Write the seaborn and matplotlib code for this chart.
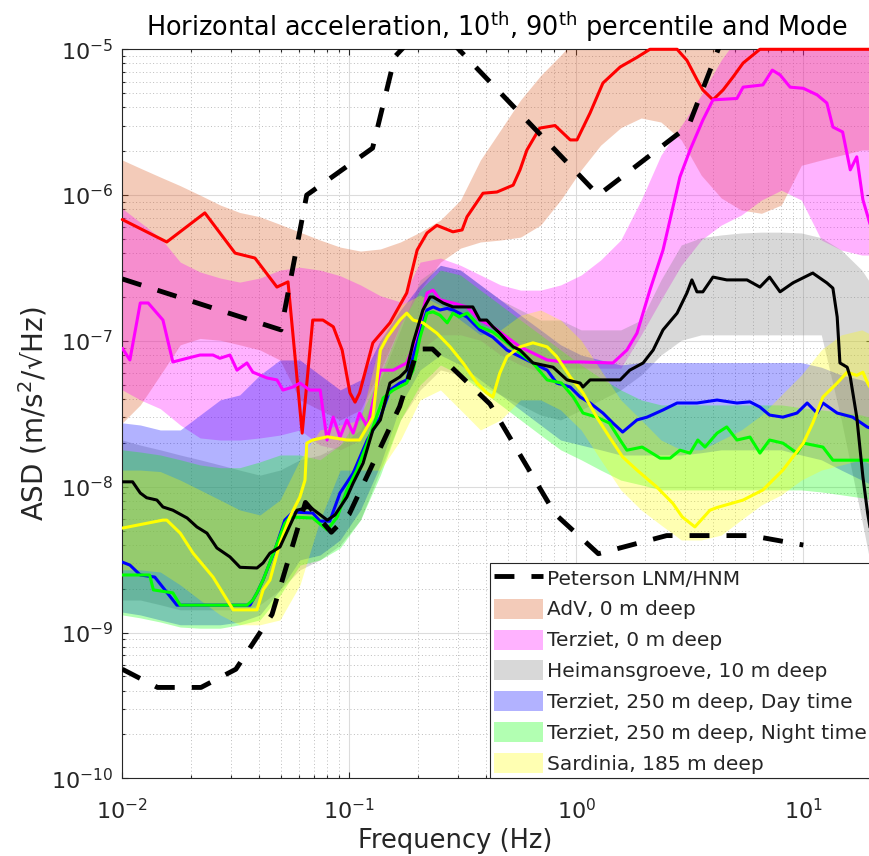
import matplotlib
matplotlib.use("Agg")
import matplotlib.pyplot as plt
from matplotlib.lines import Line2D
from matplotlib.patches import Patch
from matplotlib.ticker import NullFormatter, FixedLocator
import seaborn as sns

sns.set_theme(style="white")
plt.rcParams["font.family"] = ["DejaVu Sans"]
plt.rcParams["mathtext.fontset"] = "dejavusans"

# ---------------- Peterson new low / high noise models (breakpoints) ----------------
nlnm_freq = [0.01, 0.01429, 0.02222, 0.03165, 0.04566, 0.0641, 0.08333, 0.1, 0.1667,
             0.2, 0.2326, 0.4167, 0.8065, 1.25, 2.5, 5.882, 10.0]
nlnm_asd = [5.6e-10, 4.2e-10, 4.2e-10, 5.6e-10, 1.33e-9, 7.8e-9, 4.87e-9, 6.5e-9, 3.55e-8,
            8.8e-8, 8.8e-8, 3.69e-8, 6.5e-9, 3.47e-9, 4.62e-9, 4.62e-9, 3.98e-9]
nhnm_freq = [0.01, 0.05, 0.0649, 0.1266, 0.1587, 0.2174, 0.2632, 1.25, 3.125, 4.545, 10.0]
nhnm_asd = [2.66e-7, 1.19e-7, 1.0e-6, 2.1e-6, 8.9e-6, 1.5e-5, 1.26e-5, 1.0e-6, 2.99e-6,
            1.35e-5, 2.66e-5]

# ---------------- 10th / 90th percentile bands ----------------
band_freq = [0.01, 0.012, 0.0147, 0.018, 0.022, 0.027, 0.0329, 0.0404, 0.0495, 0.0606,
             0.0743, 0.0911, 0.112, 0.137, 0.168, 0.205, 0.252, 0.309, 0.378, 0.464,
             0.568, 0.696, 0.853, 1.05, 1.28, 1.57, 1.93, 2.36, 2.9, 3.55,
             4.35, 5.33, 6.54, 8.0, 9.8, 12.0, 14.7, 18.1, 20.0]

adv_p90 = [1.74e-6, 1.53e-6, 1.33e-6, 1.16e-6, 1.0e-6, 8.55e-7, 7.6e-7, 7.1e-7, 6.3e-7, 5.57e-7,
           4.92e-7, 4.4e-7, 4.13e-7, 4.27e-7, 4.77e-7, 5.57e-7, 6.75e-7, 9.25e-7, 1.74e-6, 2.8e-6,
           4.49e-6, 6.6e-6, 9.1e-6, 1.3e-5, 1.3e-5, 1.3e-5, 1.3e-5, 1.3e-5, 1.3e-5, 1.3e-5,
           1.3e-5, 1.3e-5, 1.3e-5, 1.3e-5, 1.3e-5, 1.3e-5, 1.3e-5, 1.3e-5, 1.3e-5]
adv_p10 = [2.74e-8, 3.64e-8, 5.84e-8, 9.4e-8, 1.04e-7, 1.01e-7, 9.4e-8, 8.67e-8, 7.4e-8, 3.94e-8,
           3.36e-8, 2.87e-8, 3.36e-8, 6.32e-8, 1.29e-7, 2.23e-7, 3.47e-7, 4.33e-7, 4.77e-7, 4.92e-7,
           5.15e-7, 6.23e-7, 9.25e-7, 1.49e-6, 2.2e-6, 2.9e-6, 3.38e-6, 3.17e-6, 2.39e-6, 1.37e-6,
           9.55e-7, 7.9e-7, 7.5e-7, 8.55e-7, 1.6e-6, 1.74e-6, 1.88e-6, 2.04e-6, 2.04e-6]

mag_p90 = [8.1e-7, 6.5e-7, 5.1e-7, 3.47e-7, 2.97e-7, 2.7e-7, 2.53e-7, 2.7e-7, 3.06e-7, 3.2e-7,
           3.06e-7, 2.8e-7, 2.42e-7, 2.04e-7, 1.85e-7, 3.47e-7, 3.7e-7, 3.3e-7, 2.83e-7, 2.42e-7,
           2.23e-7, 2.23e-7, 2.42e-7, 2.83e-7, 3.59e-7, 4.92e-7, 9.25e-7, 1.88e-6, 3.0e-6, 4.86e-6,
           8.45e-6, 1.3e-5, 1.3e-5, 1.3e-5, 1.3e-5, 1.3e-5, 1.3e-5, 1.3e-5, 1.3e-5]
mag_p10 = [4.61e-8, 3.94e-8, 3.43e-8, 2.65e-8, 2.16e-8, 2.09e-8, 2.09e-8, 2.16e-8, 2.26e-8, 2.45e-8,
           1.93e-8, 1.79e-8, 2.09e-8, 3.94e-8, 5.4e-8, 8.67e-8, 1.1e-7, 1.1e-7, 1.01e-7, 8.0e-8,
           6.84e-8, 6.1e-8, 6.5e-8, 6.5e-8, 6.5e-8, 6.5e-8, 1.1e-7, 1.91e-7, 3.3e-7, 4.92e-7,
           6.23e-7, 7.3e-7, 9.25e-7, 1.08e-6, 9.25e-7, 4.92e-7, 4.2e-7, 3.88e-7, 3.88e-7]

hei_p90 = [2.09e-8, 1.93e-8, 1.79e-8, 1.65e-8, 1.53e-8, 1.41e-8, 1.3e-8, 1.2e-8, 1.3e-8, 1.53e-8,
           1.65e-8, 1.93e-8, 2.45e-8, 5.4e-8, 1.19e-7, 2.62e-7, 3.3e-7, 3.06e-7, 2.42e-7, 1.91e-7,
           1.63e-7, 1.39e-7, 1.39e-7, 1.19e-7, 1.19e-7, 1.19e-7, 1.39e-7, 2.62e-7, 4.55e-7, 5.1e-7,
           5.33e-7, 5.5e-7, 5.57e-7, 5.57e-7, 5.5e-7, 5.1e-7, 4.2e-7, 3.06e-7, 2.42e-7]
hei_p10 = [1.67e-9, 1.67e-9, 1.55e-9, 1.43e-9, 1.43e-9, 1.43e-9, 1.43e-9, 1.55e-9, 1.96e-9, 2.69e-9,
           3.15e-9, 3.98e-9, 5.92e-9, 1.3e-8, 2.87e-8, 4.61e-8, 6.32e-8, 5.84e-8, 4.99e-8, 4.26e-8,
           3.64e-8, 3.1e-8, 2.87e-8, 3.36e-8, 3.94e-8, 4.61e-8, 5.84e-8, 8.0e-8, 1.01e-7, 1.1e-7,
           1.1e-7, 1.1e-7, 1.1e-7, 1.1e-7, 1.1e-7, 1.1e-7, 2.87e-8, 5.92e-9, 2.69e-9]

day_p90 = [2.74e-8, 2.65e-8, 2.45e-8, 2.45e-8, 3.1e-8, 3.94e-8, 4.26e-8, 5.84e-8, 7.4e-8, 7.4e-8,
           5.84e-8, 4.61e-8, 5.4e-8, 1.01e-7, 1.63e-7, 2.42e-7, 3.3e-7, 3.06e-7, 2.42e-7, 1.91e-7,
           1.5e-7, 1.19e-7, 9.4e-8, 8.0e-8, 7.4e-8, 6.84e-8, 7.1e-8, 7.1e-8, 7.1e-8, 7.1e-8,
           7.1e-8, 7.1e-8, 7.1e-8, 7.1e-8, 7.1e-8, 6.6e-8, 5.84e-8, 5.4e-8, 4.99e-8]
day_p10 = [1.38e-9, 1.32e-9, 1.22e-9, 1.13e-9, 1.13e-9, 1.13e-9, 1.18e-9, 1.32e-9, 1.96e-9, 3.15e-9,
           3.4e-9, 4.31e-9, 6.93e-9, 1.41e-8, 3.64e-8, 6.32e-8, 8.0e-8, 6.84e-8, 5.4e-8, 4.26e-8,
           3.36e-8, 2.65e-8, 2.09e-8, 1.93e-8, 1.79e-8, 1.65e-8, 1.65e-8, 1.65e-8, 1.65e-8, 1.71e-8,
           1.79e-8, 1.79e-8, 1.79e-8, 1.79e-8, 1.65e-8, 1.53e-8, 1.3e-8, 1.11e-8, 1.03e-8]

night_p90 = [1.79e-8, 1.73e-8, 1.65e-8, 1.53e-8, 1.41e-8, 1.35e-8, 1.35e-8, 1.48e-8, 1.65e-8, 1.65e-8,
             1.53e-8, 1.93e-8, 3.1e-8, 5.84e-8, 1.29e-7, 2.23e-7, 3.06e-7, 2.83e-7, 2.23e-7, 1.76e-7,
             1.39e-7, 1.1e-7, 8.67e-8, 6.84e-8, 5.57e-8, 4.61e-8, 3.94e-8, 3.64e-8, 3.64e-8, 3.64e-8,
             3.64e-8, 3.64e-8, 3.64e-8, 3.64e-8, 3.48e-8, 3.36e-8, 3.25e-8, 3.1e-8, 2.96e-8]
night_p10 = [1.32e-9, 1.26e-9, 1.18e-9, 1.09e-9, 1.07e-9, 1.07e-9, 1.13e-9, 1.22e-9, 1.8e-9, 2.9e-9,
             3.15e-9, 3.8e-9, 5.92e-9, 1.2e-8, 2.87e-8, 4.99e-8, 6.84e-8, 5.84e-8, 4.61e-8, 3.64e-8,
             2.87e-8, 2.26e-8, 1.79e-8, 1.53e-8, 1.3e-8, 1.11e-8, 1.03e-8, 9.5e-9, 9.5e-9, 9.5e-9,
             9.5e-9, 9.5e-9, 9.5e-9, 9.5e-9, 9.5e-9, 9.2e-9, 8.8e-9, 8.4e-9, 8.1e-9]

sar_p90 = [1.3e-8, 1.3e-8, 1.27e-8, 1.11e-8, 9.5e-9, 8.1e-9, 6.93e-9, 6.4e-9, 8.1e-9, 1.53e-8,
           2.45e-8, 2.65e-8, 2.87e-8, 1.01e-7, 1.76e-7, 2.06e-7, 1.76e-7, 1.39e-7, 1.1e-7, 1.19e-7,
           1.5e-7, 1.63e-7, 1.39e-7, 1.01e-7, 6.32e-8, 3.94e-8, 2.87e-8, 2.09e-8, 1.79e-8, 1.79e-8,
           2.09e-8, 2.45e-8, 3.1e-8, 4.26e-8, 5.84e-8, 8.67e-8, 1.1e-7, 1.19e-7, 1.1e-7]
sar_p10 = [2.69e-9, 2.69e-9, 2.6e-9, 2.12e-9, 1.67e-9, 1.32e-9, 1.13e-9, 1.13e-9, 1.22e-9, 2.12e-9,
           5.92e-9, 1.3e-8, 1.3e-8, 1.3e-8, 2.09e-8, 3.94e-8, 4.61e-8, 3.36e-8, 2.45e-8, 2.87e-8,
           3.94e-8, 3.94e-8, 3.36e-8, 2.45e-8, 1.53e-8, 9.5e-9, 6.93e-9, 5.46e-9, 4.31e-9, 4.31e-9,
           4.66e-9, 5.92e-9, 7.5e-9, 8.8e-9, 1.11e-8, 1.3e-8, 1.41e-8, 1.53e-8, 1.41e-8]

# ---------------- Mode curves ----------------
adv_mode_freq = [0.01, 0.0157, 0.0231, 0.0314, 0.0384, 0.048, 0.0537, 0.062, 0.069, 0.0765,
                 0.085, 0.093, 0.1007, 0.106, 0.111, 0.127, 0.151, 0.179, 0.199, 0.22,
                 0.243, 0.286, 0.314, 0.33, 0.388, 0.447, 0.527, 0.565, 0.606, 0.69,
                 0.806, 0.94, 1.007, 1.15, 1.31, 1.56, 1.85, 2.11, 2.78, 3.07,
                 3.4, 3.61, 4.0, 4.43, 4.9, 5.43, 6.44, 20.0]
adv_mode = [6.8e-7, 4.77e-7, 7.55e-7, 4.0e-7, 3.7e-7, 2.34e-7, 2.54e-7, 2.33e-8, 1.39e-7, 1.39e-7,
            1.25e-7, 8.65e-8, 4.4e-8, 3.8e-8, 4.4e-8, 9.7e-8, 1.33e-7, 2.13e-7, 4.2e-7, 5.5e-7,
            6.2e-7, 5.6e-7, 5.77e-7, 7.1e-7, 1.03e-6, 1.05e-6, 1.17e-6, 1.49e-6, 2.04e-6, 2.88e-6,
            3.0e-6, 2.39e-6, 2.39e-6, 3.66e-6, 5.87e-6, 7.56e-6, 8.8e-6, 1e-5, 1e-5, 8.4e-6,
            6.2e-6, 5.26e-6, 4.5e-6, 5.26e-6, 6.45e-6, 8.05e-6, 1e-5, 1e-5]

mag_mode_freq = [0.01, 0.0108, 0.012, 0.013, 0.0151, 0.0167, 0.0193, 0.022, 0.0251, 0.0269,
                 0.0298, 0.032, 0.0354, 0.0376, 0.0434, 0.048, 0.051, 0.0565, 0.0606, 0.067,
                 0.0744, 0.0798, 0.0849, 0.091, 0.0976, 0.104, 0.111, 0.12, 0.137, 0.156,
                 0.179, 0.199, 0.22, 0.234, 0.251, 0.286, 0.33, 0.376, 0.429, 0.495,
                 0.565, 0.644, 0.744, 0.875, 1.04, 1.45, 1.67, 1.85, 2.11, 2.41,
                 2.86, 3.17, 3.61, 4.0, 5.1, 5.43, 6.64, 7.3, 7.9, 8.75,
                 10.0, 11.5, 12.7, 13.5, 14.9, 16.1, 17.2, 18.3, 20.0]
mag_mode = [8.9e-8, 7.4e-8, 1.82e-7, 1.82e-7, 1.39e-7, 7.17e-8, 7.6e-8, 8.0e-8, 8.0e-8, 7.6e-8,
            8.0e-8, 6.3e-8, 7.06e-8, 6.1e-8, 5.57e-8, 5.4e-8, 4.6e-8, 4.83e-8, 5.14e-8, 4.6e-8,
            4.6e-8, 2.09e-8, 3.0e-8, 2.19e-8, 2.87e-8, 2.33e-8, 3.2e-8, 2.57e-8, 6.3e-8, 6.3e-8,
            7.06e-8, 1.06e-7, 2.13e-7, 2.23e-7, 1.91e-7, 1.82e-7, 1.71e-7, 1.39e-7, 1.25e-7, 1.06e-7,
            9.1e-8, 8.25e-8, 7.4e-8, 7.17e-8, 7.17e-8, 7.06e-8, 8.65e-8, 1.13e-7, 2.23e-7, 4.2e-7,
            1.33e-6, 2.04e-6, 3.27e-6, 4.5e-6, 4.6e-6, 5.5e-6, 5.7e-6, 7.2e-6, 6.67e-6, 5.5e-6,
            5.4e-6, 4.87e-6, 4.28e-6, 2.93e-6, 2.71e-6, 1.49e-6, 1.83e-6, 9.3e-7, 5.8e-7]

hei_mode_freq = [0.01, 0.0111, 0.012, 0.0128, 0.0142, 0.0151, 0.0167, 0.0193, 0.0213, 0.0236,
                 0.0261, 0.0298, 0.033, 0.0392, 0.0417, 0.0447, 0.0495, 0.0588, 0.067, 0.08,
                 0.0865, 0.0976, 0.104, 0.115, 0.127, 0.137, 0.151, 0.167, 0.179, 0.191,
                 0.211, 0.227, 0.234, 0.259, 0.286, 0.35, 0.376, 0.403, 0.429, 0.46,
                 0.495, 0.527, 0.565, 0.644, 0.79, 0.91, 1.04, 1.07, 1.15, 1.56,
                 1.72, 1.97, 2.18, 2.41, 2.78, 3.07, 3.23, 3.4, 3.61, 4.0,
                 4.6, 5.65, 6.44, 7.1, 7.9, 9.0, 11.0, 12.7, 13.5, 14.1,
                 14.5, 15.6, 16.1, 17.2, 18.3, 19.2, 20.0]
hei_mode = [1.08e-8, 1.08e-8, 9.05e-9, 8.4e-9, 8.1e-9, 7.26e-9, 6.9e-9, 6.1e-9, 5.3e-9, 4.8e-9,
            3.8e-9, 3.3e-9, 2.8e-9, 2.77e-9, 3.0e-9, 3.5e-9, 3.86e-9, 6.9e-9, 7.26e-9, 5.9e-9,
            6.4e-9, 8.5e-9, 1.06e-8, 1.45e-8, 2.45e-8, 2.87e-8, 5.14e-8, 5.66e-8, 6.3e-8, 9.7e-8,
            1.63e-7, 2.0e-7, 2.0e-7, 1.82e-7, 1.71e-7, 1.71e-7, 1.39e-7, 1.39e-7, 1.25e-7, 1.13e-7,
            1.0e-7, 9.1e-8, 8.65e-8, 7.06e-8, 6.6e-8, 5.4e-8, 5.14e-8, 4.83e-8, 5.4e-8, 5.4e-8,
            6.3e-8, 7.06e-8, 8.65e-8, 1.19e-7, 1.55e-7, 2.13e-7, 2.62e-7, 2.17e-7, 2.17e-7, 2.74e-7,
            2.62e-7, 2.62e-7, 2.34e-7, 2.74e-7, 2.17e-7, 2.5e-7, 2.92e-7, 2.5e-7, 2.3e-7, 1.46e-7,
            7.06e-8, 6.6e-8, 5.66e-8, 3.0e-8, 1.17e-8, 6.6e-9, 4.5e-9]

day_mode_freq = [0.01, 0.0108, 0.012, 0.0139, 0.0154, 0.0174, 0.0365, 0.0392, 0.0417, 0.047,
                 0.052, 0.0565, 0.069, 0.0744, 0.082, 0.091, 0.104, 0.12, 0.137, 0.151,
                 0.167, 0.179, 0.191, 0.205, 0.22, 0.234, 0.251, 0.27, 0.286, 0.33,
                 0.376, 0.429, 0.495, 0.565, 0.644, 0.744, 0.82, 0.94, 1.04, 1.15,
                 1.31, 1.45, 1.6, 1.85, 2.05, 2.41, 2.78, 3.4, 4.17, 5.1,
                 5.82, 6.44, 7.1, 8.13, 9.38, 10.4, 11.5, 12.2, 14.1, 16.5,
                 19.1, 20.0]
day_mode = [3.04e-9, 2.9e-9, 2.48e-9, 2.4e-9, 1.96e-9, 1.54e-9, 1.54e-9, 1.87e-9, 2.29e-9, 3.68e-9,
            5.9e-9, 6.7e-9, 6.6e-9, 5.8e-9, 5.8e-9, 9.05e-9, 1.24e-8, 2.09e-8, 3.0e-8, 4.6e-8,
            5.14e-8, 5.4e-8, 7.8e-8, 1.13e-7, 1.63e-7, 1.71e-7, 1.63e-7, 1.67e-7, 1.63e-7, 1.46e-7,
            1.19e-7, 1.06e-7, 8.65e-8, 7.8e-8, 7.06e-8, 6.3e-8, 5.14e-8, 4.83e-8, 4.12e-8, 3.75e-8,
            3.2e-8, 2.73e-8, 2.37e-8, 2.87e-8, 3.0e-8, 3.36e-8, 3.75e-8, 3.75e-8, 3.93e-8, 3.75e-8,
            3.82e-8, 3.52e-8, 3.1e-8, 3.0e-8, 3.2e-8, 3.75e-8, 3.2e-8, 3.75e-8, 3.2e-8, 3.0e-8,
            2.57e-8, 2.5e-8]

night_mode_freq = [0.01, 0.0132, 0.0137, 0.0167, 0.018, 0.0354, 0.0376, 0.0392, 0.0417, 0.052,
                   0.0547, 0.069, 0.08, 0.0885, 0.0976, 0.108, 0.12, 0.141, 0.156, 0.179,
                   0.191, 0.205, 0.22, 0.234, 0.251, 0.27, 0.286, 0.305, 0.33, 0.376,
                   0.429, 0.495, 0.565, 0.644, 0.744, 0.86, 0.97, 1.07, 1.23, 1.4,
                   1.56, 1.67, 1.95, 2.34, 2.59, 2.86, 3.17, 3.43, 3.69, 4.17,
                   4.6, 5.1, 5.82, 6.44, 7.1, 8.13, 9.38, 10.0, 12.2, 13.5,
                   20.0]
night_mode = [2.48e-9, 2.48e-9, 1.96e-9, 1.87e-9, 1.54e-9, 1.54e-9, 1.67e-9, 1.87e-9, 2.29e-9, 5.6e-9,
              6.2e-9, 6.1e-9, 5.05e-9, 6.2e-9, 9.5e-9, 1.3e-8, 1.99e-8, 4.06e-8, 4.6e-8, 5.14e-8,
              6.3e-8, 1.06e-7, 1.55e-7, 1.58e-7, 1.5e-7, 1.33e-7, 1.55e-7, 1.46e-7, 1.55e-7, 1.25e-7,
              1.15e-7, 9.7e-8, 8.25e-8, 7.06e-8, 5.4e-8, 5.14e-8, 4.12e-8, 3.2e-8, 3.0e-8, 2.73e-8,
              2.09e-8, 1.78e-8, 1.87e-8, 1.57e-8, 1.57e-8, 1.78e-8, 1.7e-8, 2.09e-8, 1.87e-8, 2.33e-8,
              2.57e-8, 2.09e-8, 2.19e-8, 1.7e-8, 2.09e-8, 1.99e-8, 1.7e-8, 1.99e-8, 1.87e-8, 1.52e-8,
              1.52e-8]

sar_mode_freq = [0.01, 0.0151, 0.0157, 0.018, 0.0205, 0.0251, 0.0308, 0.0392, 0.0417, 0.0447,
                 0.0495, 0.0547, 0.0606, 0.0638, 0.065, 0.069, 0.08, 0.0976, 0.111, 0.127,
                 0.137, 0.147, 0.167, 0.179, 0.191, 0.211, 0.243, 0.278, 0.317, 0.365,
                 0.403, 0.429, 0.46, 0.495, 0.565, 0.644, 0.744, 0.82, 0.94, 1.07,
                 1.23, 1.4, 1.6, 1.85, 2.27, 2.66, 2.93, 3.33, 3.88, 4.17,
                 5.43, 6.64, 8.13, 10.0, 11.0, 12.2, 14.1, 15.6, 17.2, 18.3,
                 19.2, 20.0]
sar_mode = [5.2e-9, 5.9e-9, 5.9e-9, 4.8e-9, 3.5e-9, 2.4e-9, 1.43e-9, 1.43e-9, 1.96e-9, 2.29e-9,
            4.1e-9, 6.2e-9, 8.5e-9, 1.11e-8, 1.99e-8, 2.09e-8, 2.2e-8, 2.09e-8, 2.09e-8, 3.0e-8,
            8.65e-8, 1.06e-7, 1.39e-7, 1.55e-7, 1.39e-7, 1.33e-7, 1.13e-7, 9.1e-8, 7.06e-8, 5.14e-8,
            4.4e-8, 4.12e-8, 6.0e-8, 7.8e-8, 9.1e-8, 9.7e-8, 9.1e-8, 7.8e-8, 5.66e-8, 4.4e-8,
            3.0e-8, 2.19e-8, 1.6e-8, 1.3e-8, 9.9e-9, 7.7e-9, 6.2e-9, 5.3e-9, 6.9e-9, 7.2e-9,
            8.1e-9, 9.5e-9, 1.3e-8, 1.99e-8, 2.73e-8, 4.12e-8, 5.14e-8, 6.1e-8, 5.8e-8, 6.1e-8,
            5.14e-8, 4.6e-8]

x_ticks = [1e-2, 1e-1, 1e0, 1e1]
y_ticks = [1e-10, 1e-9, 1e-8, 1e-7, 1e-6, 1e-5]

labels = ["AdV, 0 m deep", "Terziet, 0 m deep", "Heimansgroeve, 10 m deep",
          "Terziet, 250 m deep, Day time", "Terziet, 250 m deep, Night time",
          "Sardinia, 185 m deep"]
fill_colors = [(0.85, 0.325, 0.098), (1.0, 0.0, 1.0), (0.5, 0.5, 0.5),
               (0.0, 0.0, 1.0), (0.0, 1.0, 0.0), (1.0, 1.0, 0.0)]
line_colors = ["#ff0000", "#ff00ff", "#000000", "#0000ff", "#00ff00", "#ffff00"]

bands = [(adv_p10, adv_p90), (mag_p10, mag_p90), (hei_p10, hei_p90),
         (day_p10, day_p90), (night_p10, night_p90), (sar_p10, sar_p90)]
modes = [(adv_mode_freq, adv_mode), (mag_mode_freq, mag_mode), (hei_mode_freq, hei_mode),
         (day_mode_freq, day_mode), (night_mode_freq, night_mode), (sar_mode_freq, sar_mode)]

# ---------------- Figure ----------------
fig = plt.figure(figsize=(8.69, 8.56), dpi=100)
ax = fig.add_axes([0.14074, 0.09077, 0.8623, 0.85164])
ax.set_xscale("log")
ax.set_yscale("log")

ax.grid(True, which="major", color="#dcdcdc", lw=0.8, ls="-", zorder=0)
ax.grid(True, which="minor", color="#bcbcbc", lw=0.7, ls=(0, (1, 2.5)), zorder=0)

for (lo, hi), c in zip(bands, fill_colors):
    ax.fill_between(band_freq, lo, hi, color=c, alpha=0.3, lw=0, zorder=1)

draw_order = [0, 1, 3, 4, 5, 2]
for i in draw_order:
    f, v = modes[i]
    sns.lineplot(x=f, y=v, ax=ax, color=line_colors[i], lw=2.2, sort=False,
                 estimator=None, legend=False, zorder=3)
    if i == 0:
        ax.lines[-1].set_clip_on(False)

dash = (0, (4.1, 3.5))
for f, v in [(nlnm_freq, nlnm_asd), (nhnm_freq, nhnm_asd)]:
    sns.lineplot(x=f, y=v, ax=ax, color="black", lw=3.5, sort=False,
                 estimator=None, legend=False, zorder=4)
    ln = ax.lines[-1]
    ln.set_linestyle(dash)
    ln.set_dash_capstyle("butt")

ax.set_xlim(0.01, 20)
ax.set_ylim(1e-10, 1e-5)
ax.xaxis.set_major_locator(FixedLocator(x_ticks))
ax.yaxis.set_major_locator(FixedLocator(y_ticks))
ax.xaxis.set_minor_formatter(NullFormatter())
ax.yaxis.set_minor_formatter(NullFormatter())

txt = "#262626"
ax.tick_params(which="both", direction="in", top=True, right=True, bottom=True, left=True,
               colors=txt, width=0.8, labelsize=16)
ax.tick_params(which="major", length=4.3)
ax.tick_params(which="minor", length=2.5)
ax.tick_params(axis="x", which="major", pad=14)
ax.tick_params(axis="y", which="major", pad=6.5)
for s in ax.spines.values():
    s.set_color(txt)
    s.set_linewidth(0.8)

ax.set_title("Horizontal acceleration, 10$^{\\rm th}$, 90$^{\\rm th}$ percentile and Mode",
             fontsize=18.4, color="black", pad=9.4)
ax.set_xlabel("Frequency (Hz)", fontsize=18.5, color=txt)
ax.set_ylabel("ASD (m/s$^2$/\u221aHz)", fontsize=20, color=txt)
ax.xaxis.set_label_coords(0.4447, -0.086)
ax.xaxis.label.set_va("center")
ax.yaxis.set_label_coords(-0.1192, 0.5)
ax.yaxis.label.set_va("center")

handles = [Line2D([], [], color="black", lw=3.5, linestyle=dash, dash_capstyle="butt")]
handles += [Patch(facecolor=c, alpha=0.3, edgecolor="none") for c in fill_colors]
leg = ax.legend(handles, ["Peterson LNM/HNM"] + labels, loc="lower right",
                bbox_to_anchor=(1.0, 0.0), bbox_transform=ax.transAxes, borderaxespad=0,
                fontsize=14.5, handlelength=2.45, handleheight=1.15, handletextpad=0.2,
                labelspacing=0.5, borderpad=0.22, frameon=True, fancybox=False,
                framealpha=1.0, edgecolor=txt)
leg.get_frame().set_linewidth(0.8)
leg.set_zorder(10)

fig.savefig("out.png", dpi=100)
